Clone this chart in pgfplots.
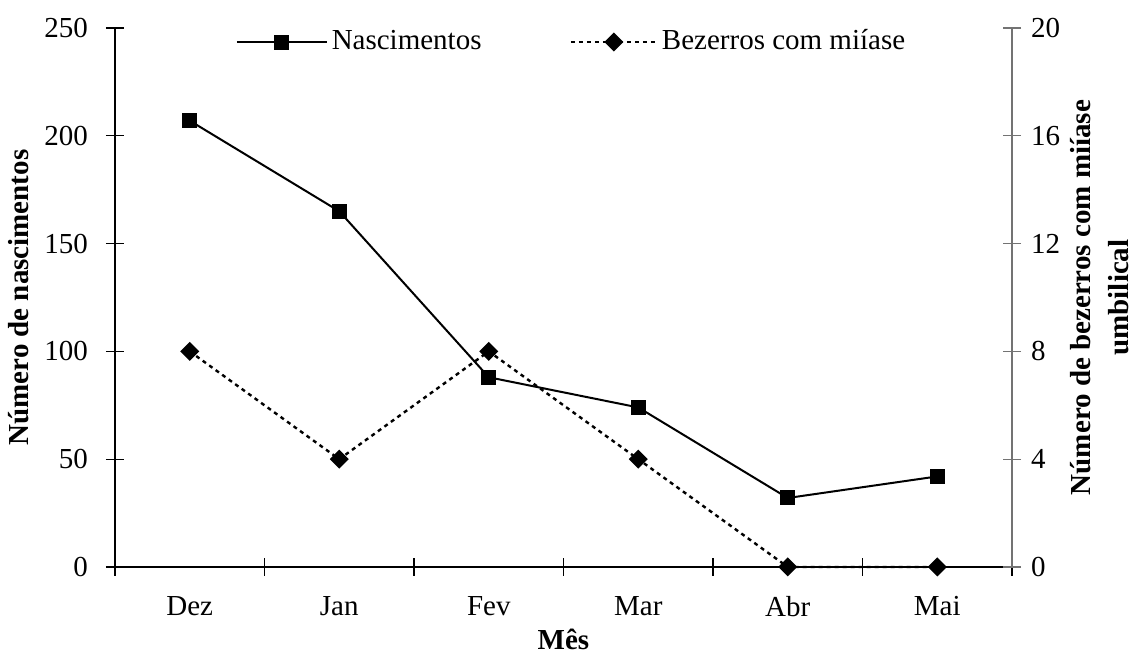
\documentclass[border=0pt]{standalone}
\usepackage{fontspec}
\setmainfont{Liberation Serif}
\usepackage{pgfplots}
\pgfplotsset{compat=1.18}
\pgfplotsset{
  legA/.style={legend image code/.code={\draw[mark repeat=2,mark phase=2,##1] plot coordinates {(0pt,0pt) (22.5pt,0pt) (45pt,0pt)};}},
  legB/.style={legend image code/.code={\draw[mark repeat=2,mark phase=2,##1] plot coordinates {(0pt,0pt) (21.5pt,0pt) (43pt,0pt)};}},
}
\begin{document}
\fontsize{14.5}{17.5}\selectfont
\begin{tikzpicture}[font=\fontsize{14.5}{17.5}\selectfont]
\begin{axis}[
  name=ax,
  scale only axis,
  width=448.5pt, height=269.5pt,
  xmin=-0.5, xmax=5.5,
  ymin=0, ymax=250,
  ytick={0,50,...,250},
  xtick={0,...,5},
  xticklabels={Dez,Jan,Fev,Mar,Abr,Mai},
  minor xtick={-0.5,0.5,...,5.5},
  axis x line*=bottom,
  axis y line*=left,
  axis line style={-, line width=0.6pt},
  tick align=center,
  major tick length=9pt,
  minor tick length=9pt,
  every tick/.style={black, line width=0.6pt},
  major x tick style={draw=none},
  clip=false,
  /pgf/number format/assume math mode=true,
  yticklabel style={xshift=-4pt},
  xticklabel style={yshift=-5pt},
  ylabel={Número de nascimentos},
  ylabel style={at={(axis description cs:-0.107,0.5)}, anchor=center, font=\fontsize{14.5}{17.5}\selectfont\bfseries},
  xlabel={Mês},
  xlabel style={at={(axis description cs:0.5,-0.135)}, anchor=center, font=\fontsize{14.5}{17.5}\selectfont\bfseries},
  legend columns=2,
  legend style={draw=none, fill=none, at={(axis description cs:0.510,0.974)}, anchor=center,
    /tikz/every even column/.append style={column sep=42pt}},
  legend cell align=left,
]
\addplot[black, line width=1pt, mark=square*, mark size=3.25pt, legA]
  coordinates {(0,207) (1,165) (2,88) (3,74) (4,32) (5,42)};
\addlegendentry{Nascimentos}
\addlegendimage{black, line width=1.2pt, dash pattern=on 2pt off 2pt, mark=square*, mark options={rotate=45, solid}, mark size=2.76pt, legB}
\addlegendentry{Bezerros com miíase}
\end{axis}
\begin{axis}[
  scale only axis,
  width=448.5pt, height=269.5pt,
  xmin=-0.5, xmax=5.5,
  ymin=0, ymax=20,
  ytick={0,4,...,20},
  axis y line*=right,
  axis x line=none,
  axis line style={-, black!55, line width=0.6pt},
  tick align=center,
  major tick length=9pt,
  every tick/.style={black!55, line width=0.6pt},
  clip=false,
  /pgf/number format/assume math mode=true,
  yticklabel style={xshift=0pt},
  ylabel={Número de bezerros com miíase\\umbilical},
  ylabel style={at={(axis description cs:1.098,0.5)}, anchor=center, align=center, font=\fontsize{14.5}{19}\selectfont\bfseries},
]
\addplot[black, line width=1.2pt, dash pattern=on 2pt off 2pt, mark=square*, mark options={rotate=45, solid}, mark size=2.76pt]
  coordinates {(0,8) (1,4) (2,8) (3,4) (4,0) (5,0)};
\end{axis}
\pgfresetboundingbox
\path ([shift={(-57.5pt,-46.5pt)}]ax.south west) rectangle ([shift={(64pt,14pt)}]ax.north east);
\end{tikzpicture}
\end{document}
